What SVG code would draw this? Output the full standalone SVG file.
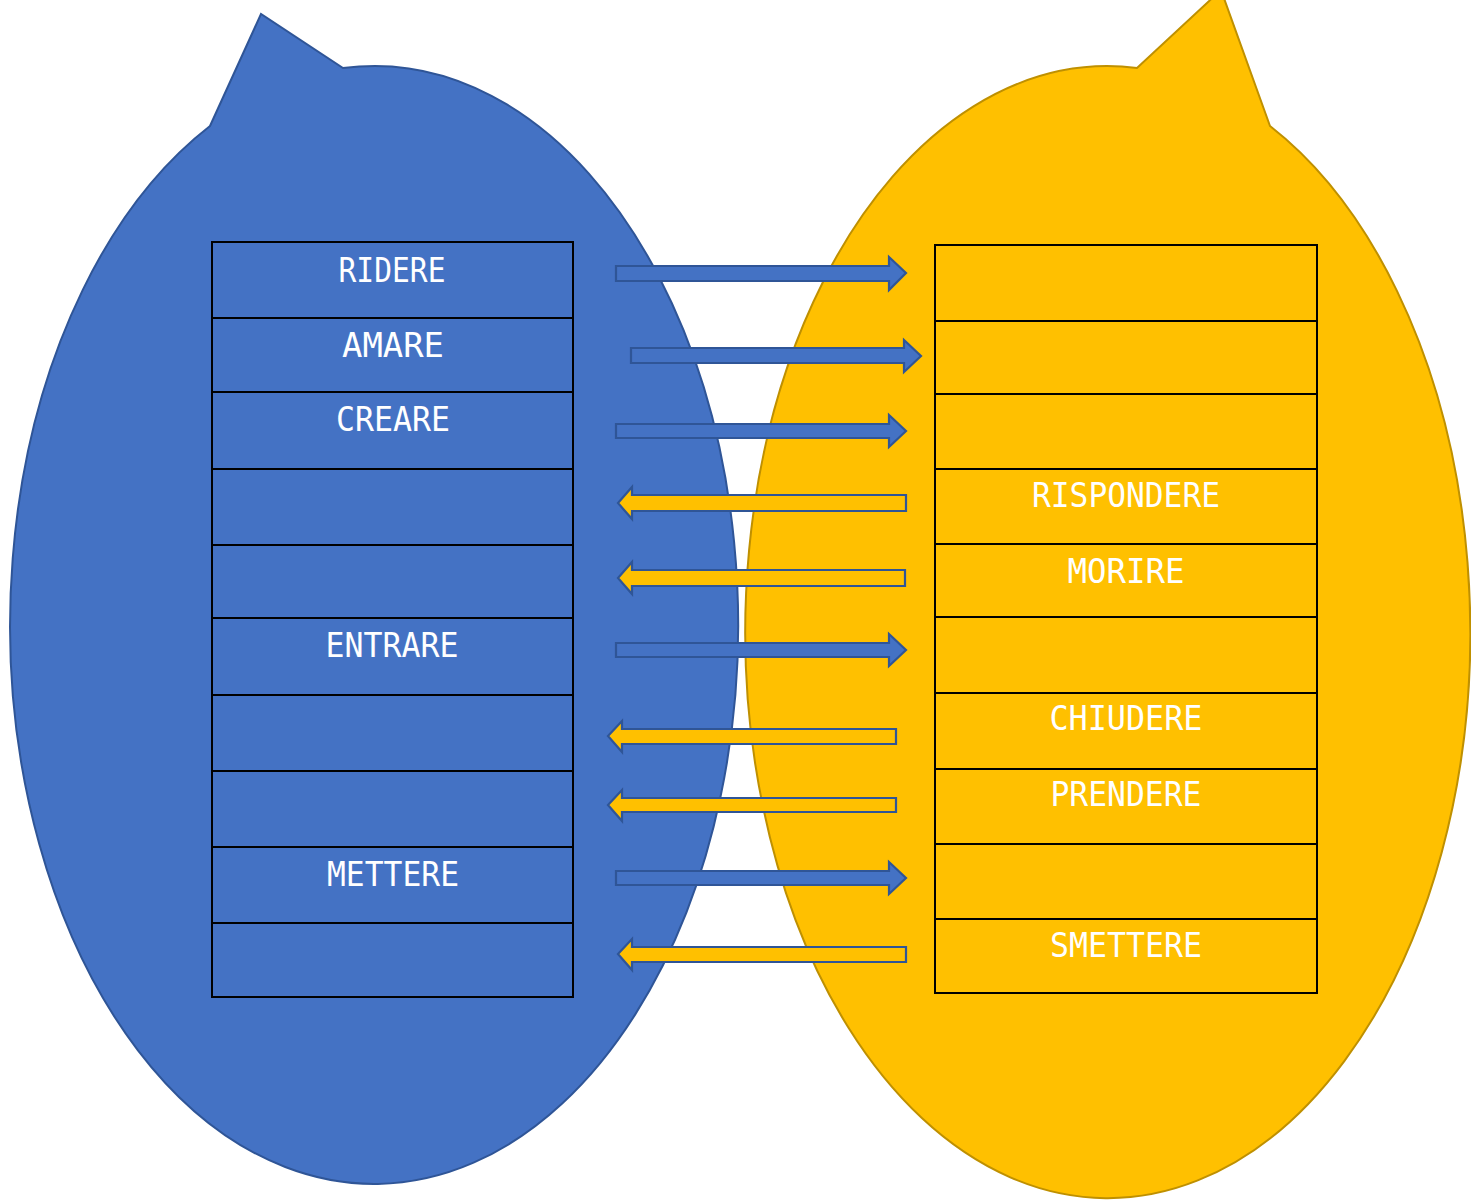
<svg xmlns="http://www.w3.org/2000/svg" width="1471" height="1200" viewBox="0 0 1471 1200">
<style>
.blueShape{fill:#4472C4;stroke:#2F5597;stroke-width:2}
.yellowShape{fill:#FFC000;stroke:#BF9000;stroke-width:2}
.cellB{fill:#4472C4;stroke:#000;stroke-width:2}
.cellY{fill:#FFC000;stroke:#000;stroke-width:2}
.lbl{font-family:"DejaVu Sans Mono","Liberation Mono",monospace;font-size:33.5px;fill:#fff;text-anchor:middle}
.arB{fill:#4472C4;stroke:#2F5597;stroke-width:2.2;stroke-linejoin:miter}
.arY{fill:#FFC000;stroke:#2F5597;stroke-width:2.2;stroke-linejoin:miter}
</style>
<rect width="1471" height="1200" fill="#fff"/>
<g id="bubble-left">
<path class="blueShape" d="M 210 126 L 261 14 L 343 68 A 364 559 0 1 1 210 126 Z"/>
</g>
<g id="bubble-right">
<path class="yellowShape" d="M 1270 126 L 1221 -10 L 1137 68 A 362.5 566 0 1 0 1270 126 Z"/>
</g>
<g id="table-left">
<rect class="cellB" x="212" y="242" width="361" height="76"/>
<rect class="cellB" x="212" y="318" width="361" height="74"/>
<rect class="cellB" x="212" y="392" width="361" height="77"/>
<rect class="cellB" x="212" y="469" width="361" height="76"/>
<rect class="cellB" x="212" y="545" width="361" height="73"/>
<rect class="cellB" x="212" y="618" width="361" height="77"/>
<rect class="cellB" x="212" y="695" width="361" height="76"/>
<rect class="cellB" x="212" y="771" width="361" height="76"/>
<rect class="cellB" x="212" y="847" width="361" height="76"/>
<rect class="cellB" x="212" y="923" width="361" height="74"/>
<text class="lbl" x="392" y="282" textLength="107" lengthAdjust="spacingAndGlyphs">RIDERE</text>
<text class="lbl" x="393" y="357" textLength="102" lengthAdjust="spacingAndGlyphs">AMARE</text>
<text class="lbl" x="393" y="431" textLength="114" lengthAdjust="spacingAndGlyphs">CREARE</text>
<text class="lbl" x="392" y="657" textLength="133" lengthAdjust="spacingAndGlyphs">ENTRARE</text>
<text class="lbl" x="393" y="886" textLength="132" lengthAdjust="spacingAndGlyphs">METTERE</text>
</g>
<g id="table-right">
<rect class="cellY" x="935" y="245" width="382" height="76"/>
<rect class="cellY" x="935" y="321" width="382" height="73"/>
<rect class="cellY" x="935" y="394" width="382" height="75"/>
<rect class="cellY" x="935" y="469" width="382" height="75"/>
<rect class="cellY" x="935" y="544" width="382" height="73"/>
<rect class="cellY" x="935" y="617" width="382" height="76"/>
<rect class="cellY" x="935" y="693" width="382" height="76"/>
<rect class="cellY" x="935" y="769" width="382" height="75"/>
<rect class="cellY" x="935" y="844" width="382" height="75"/>
<rect class="cellY" x="935" y="919" width="382" height="74"/>
<text class="lbl" x="1126" y="507" textLength="188" lengthAdjust="spacingAndGlyphs">RISPONDERE</text>
<text class="lbl" x="1126" y="583" textLength="117" lengthAdjust="spacingAndGlyphs">MORIRE</text>
<text class="lbl" x="1126" y="730" textLength="153" lengthAdjust="spacingAndGlyphs">CHIUDERE</text>
<text class="lbl" x="1126" y="806" textLength="151" lengthAdjust="spacingAndGlyphs">PRENDERE</text>
<text class="lbl" x="1126" y="957" textLength="152" lengthAdjust="spacingAndGlyphs">SMETTERE</text>
</g>
<g id="connectors">
<path class="arB" d="M 616 266 L 889 266 L 889 257 L 906 273 L 889 290 L 889 281 L 616 281 Z"/>
<path class="arB" d="M 631 348 L 904 348 L 904 340 L 921 356 L 904 372 L 904 363 L 631 363 Z"/>
<path class="arB" d="M 616 424 L 889 424 L 889 415 L 906 431 L 889 447 L 889 438 L 616 438 Z"/>
<path class="arY" d="M 906 495 L 632 495 L 632 487 L 618 503 L 632 519 L 632 511 L 906 511 Z"/>
<path class="arY" d="M 905 570 L 632 570 L 632 562 L 618 578 L 632 594 L 632 586 L 905 586 Z"/>
<path class="arB" d="M 616 643 L 889 643 L 889 634 L 906 650 L 889 666 L 889 657 L 616 657 Z"/>
<path class="arY" d="M 896 729 L 622 729 L 622 721 L 608 736 L 622 752 L 622 744 L 896 744 Z"/>
<path class="arY" d="M 896 798 L 622 798 L 622 790 L 608 805 L 622 821 L 622 812 L 896 812 Z"/>
<path class="arB" d="M 616 871 L 889 871 L 889 862 L 906 878 L 889 894 L 889 885 L 616 885 Z"/>
<path class="arY" d="M 906 947 L 632 947 L 632 939 L 618 954 L 632 970 L 632 962 L 906 962 Z"/>
</g>
</svg>
